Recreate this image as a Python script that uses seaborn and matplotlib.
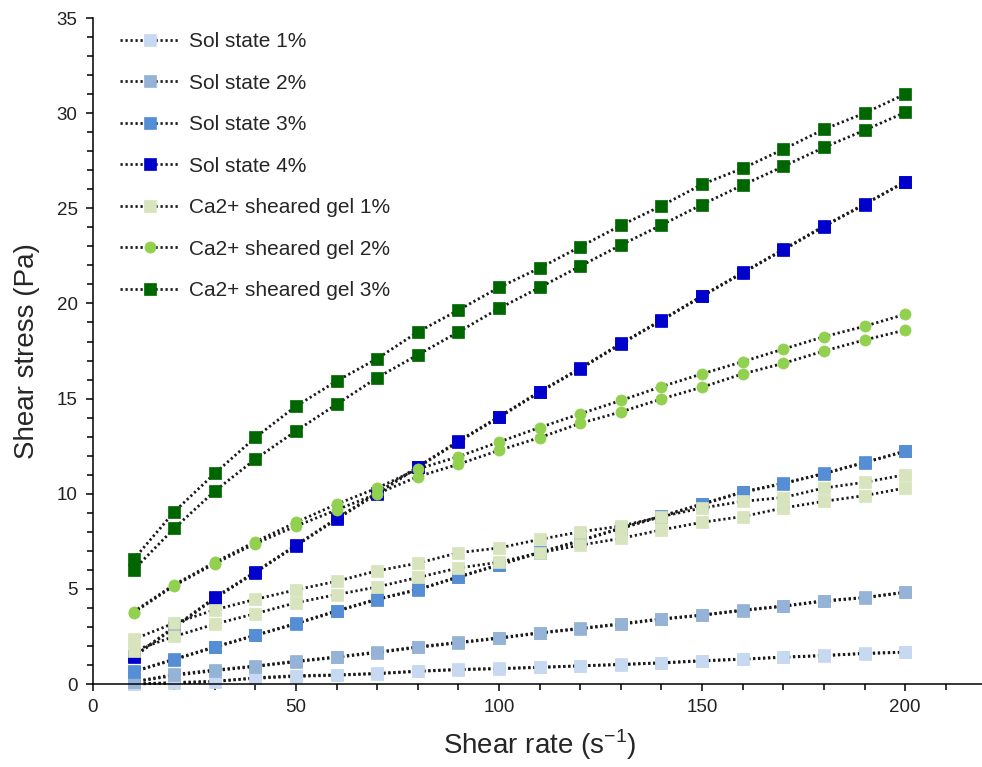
import matplotlib
matplotlib.use("Agg")
import matplotlib.pyplot as plt
import seaborn as sns
from matplotlib.ticker import MultipleLocator

shear_rate = [10, 20, 30, 40, 50, 60, 70, 80, 90, 100,
              110, 120, 130, 140, 150, 160, 170, 180, 190, 200]

# up sweep / down sweep for every sample
sol1_up = [0.0, 0.05, 0.12, 0.33, 0.44, 0.48, 0.56, 0.68, 0.77, 0.82,
           0.88, 0.96, 1.03, 1.12, 1.23, 1.31, 1.42, 1.50, 1.61, 1.68]
sol1_down = [0.0, 0.08, 0.15, 0.30, 0.40, 0.46, 0.54, 0.66, 0.75, 0.80,
             0.87, 0.95, 1.02, 1.10, 1.21, 1.30, 1.40, 1.49, 1.60, 1.67]
sol2_up = [0.12, 0.50, 0.74, 0.95, 1.20, 1.43, 1.68, 1.96, 2.19, 2.43,
           2.70, 2.93, 3.17, 3.43, 3.63, 3.89, 4.10, 4.38, 4.55, 4.83]
sol2_down = [0.10, 0.45, 0.70, 0.92, 1.17, 1.40, 1.65, 1.92, 2.16, 2.40,
             2.67, 2.90, 3.14, 3.40, 3.61, 3.86, 4.08, 4.35, 4.53, 4.81]
sol3_up = [0.66, 1.31, 1.96, 2.57, 3.19, 3.85, 4.47, 4.97, 5.64, 6.28,
           6.92, 7.55, 8.20, 8.83, 9.47, 10.10, 10.55, 11.07, 11.65, 12.24]
sol3_down = [0.64, 1.28, 1.93, 2.55, 3.16, 3.82, 4.44, 4.95, 5.61, 6.25,
             6.90, 7.52, 8.17, 8.80, 9.44, 10.07, 10.53, 11.05, 11.63, 12.22]
sol4_up = [1.45, 3.00, 4.55, 5.90, 7.30, 8.70, 10.05, 11.42, 12.77, 14.05,
           15.37, 16.60, 17.90, 19.13, 20.40, 21.63, 22.84, 24.07, 25.22, 26.40]
sol4_down = [1.42, 2.95, 4.50, 5.86, 7.26, 8.66, 10.00, 11.38, 12.73, 14.01,
             15.33, 16.56, 17.86, 19.10, 20.37, 21.60, 22.81, 24.04, 25.20, 26.38]
gel1_up = [2.35, 3.20, 3.90, 4.45, 4.95, 5.40, 5.95, 6.35, 6.90, 7.15,
           7.60, 8.00, 8.30, 8.80, 9.25, 9.60, 9.80, 10.30, 10.60, 11.00]
gel1_down = [1.75, 2.50, 3.15, 3.70, 4.27, 4.70, 5.10, 5.60, 6.10, 6.40,
             6.90, 7.30, 7.65, 8.10, 8.50, 8.80, 9.25, 9.60, 9.90, 10.30]
gel2_up = [3.80, 5.22, 6.40, 7.48, 8.50, 9.45, 10.30, 11.30, 11.95, 12.72,
           13.48, 14.20, 14.90, 15.63, 16.30, 16.94, 17.60, 18.25, 18.80, 19.43]
gel2_down = [3.75, 5.17, 6.33, 7.38, 8.30, 9.15, 10.00, 10.90, 11.55, 12.28,
             12.95, 13.70, 14.30, 14.98, 15.60, 16.30, 16.85, 17.50, 18.08, 18.60]
gel3_up = [6.55, 9.05, 11.07, 12.96, 14.60, 15.92, 17.10, 18.50, 19.65, 20.84,
           21.86, 22.98, 24.10, 25.13, 26.26, 27.10, 28.10, 29.15, 30.00, 31.00]
gel3_down = [6.00, 8.18, 10.14, 11.82, 13.30, 14.70, 16.10, 17.30, 18.50, 19.74,
             20.84, 21.96, 23.07, 24.12, 25.20, 26.22, 27.20, 28.20, 29.10, 30.04]

labels = ["Sol state 1%", "Sol state 2%", "Sol state 3%", "Sol state 4%",
          "Ca2+ sheared gel 1%", "Ca2+ sheared gel 2%", "Ca2+ sheared gel 3%"]
colors = ["#C6D9F1", "#95B3D7", "#558ED5", "#0000CC",
          "#D7E4BD", "#92D050", "#006600"]
markers = ["s", "s", "s", "s", "s", "o", "s"]
sweeps = [(sol1_up, sol1_down), (sol2_up, sol2_down), (sol3_up, sol3_down),
          (sol4_up, sol4_down), (gel1_up, gel1_down), (gel2_up, gel2_down),
          (gel3_up, gel3_down)]

sns.set_style("white")
plt.rcParams["font.family"] = ["Liberation Sans", "DejaVu Sans"]
plt.rcParams["mathtext.fontset"] = "custom"
plt.rcParams["mathtext.rm"] = "Liberation Sans"

fig = plt.figure(figsize=(9.82, 7.67), dpi=100)
ax = fig.add_axes([0.0947, 0.1082, 0.9097, 0.8683])

for label, color, marker, (up, down) in zip(labels, colors, markers, sweeps):
    for i, vals in enumerate((up, down)):
        sns.lineplot(x=shear_rate, y=vals, ax=ax, estimator=None,
                     color="#1a1a1a", linewidth=2.0, dashes=False,
                     linestyle=(0, (0.8, 1.0)), marker=marker, markersize=8,
                     markerfacecolor=color, markeredgecolor=color,
                     markeredgewidth=0.5, clip_on=False,
                     label=label if i == 0 else None)

ax.set_xlim(0, 220)
ax.set_ylim(0, 35)
ax.xaxis.set_major_locator(MultipleLocator(50))
ax.xaxis.set_minor_locator(MultipleLocator(10))
ax.yaxis.set_major_locator(MultipleLocator(5))
ax.yaxis.set_minor_locator(MultipleLocator(1))
ax.tick_params(which="both", direction="out", color="black", width=1.1,
               bottom=True, left=True)
ax.tick_params(which="major", length=5, labelsize=13.5, pad=6,
               labelcolor="#222222")
ax.tick_params(which="minor", length=4)

for side in ["top", "right"]:
    ax.spines[side].set_visible(False)
for side in ["left", "bottom"]:
    ax.spines[side].set_color("black")
    ax.spines[side].set_linewidth(1.1)
    ax.spines[side].set_zorder(5)

ax.set_xlabel(r"Shear rate (s$^{\mathrm{-1}}$)", fontsize=20, labelpad=8)
ax.set_ylabel("Shear stress (Pa)", fontsize=20, labelpad=12)

ax.legend(loc="upper left", bbox_to_anchor=(0.1222, 0.958),
          bbox_transform=fig.transFigure, frameon=False, fontsize=15,
          borderpad=0, borderaxespad=0, handlelength=2.9,
          handletextpad=0.4, labelspacing=1.08, numpoints=1)

fig.savefig("out.png", dpi=100)
